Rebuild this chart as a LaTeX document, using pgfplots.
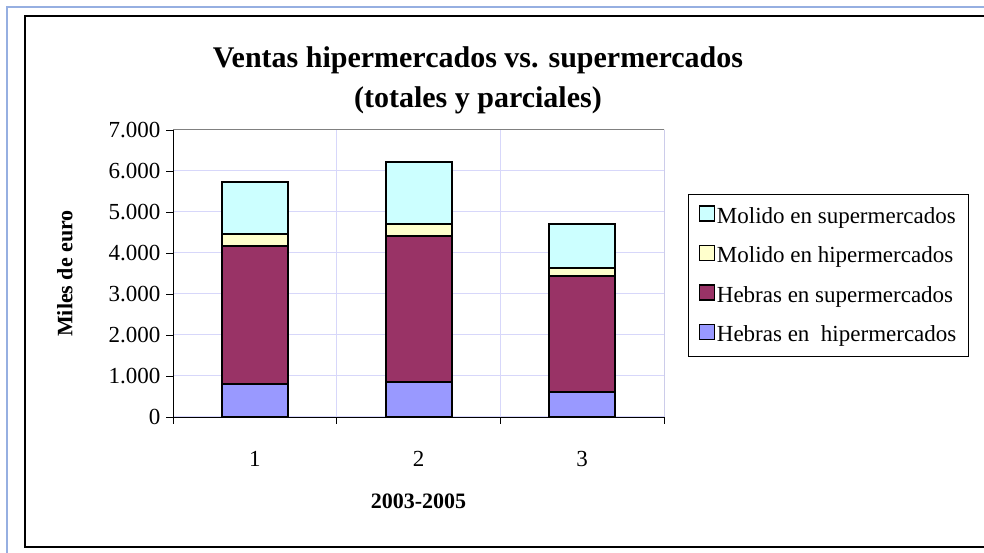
\documentclass[border=0pt]{standalone}
\usepackage{pgfplots}
\pgfplotsset{compat=1.18}
\usepackage{fontspec}
\setmainfont{Liberation Serif}
\definecolor{hhip}{RGB}{153,153,255}
\definecolor{hsup}{RGB}{153,51,102}
\definecolor{mhip}{RGB}{255,255,204}
\definecolor{msup}{RGB}{204,255,255}
\definecolor{gridc}{RGB}{215,215,250}
\definecolor{outerblue}{RGB}{150,175,225}
\begin{document}
\begin{tikzpicture}[x=1pt,y=1pt]
\useasboundingbox (0,0) rectangle (984,553);
\fill[white] (0,0) rectangle (984,553);
\draw[outerblue,line width=2pt] (7,0) -- (7,546) -- (984,546);
\draw[black,line width=1.6pt] (25,6) rectangle (995,537);
\begin{axis}[
  at={(173pt,136pt)}, anchor=south west,
  scale only axis, width=491pt, height=287pt,
  ybar stacked, bar width=66pt,
  xmin=0.5, xmax=3.5, ymin=0, ymax=7000,
  enlargelimits=false,
  axis x line*=bottom, axis y line*=left,
  axis line style={black,line width=0.9pt},
  xtick={1,2,3}, xticklabels={1,2,3},
  major x tick style={draw=none},
  minor xtick={0.5,1.5,2.5,3.5},
  minor x tick style={black,line width=0.9pt},
  xminorgrids=true, minor x grid style={gridc,line width=1pt},
  ytick={0,1000,...,7000},
  ymajorgrids=true, major y grid style={gridc,line width=1pt},
  major y tick style={black,line width=0.9pt},
  tick align=outside, major tick length=7pt, minor tick length=7pt,
  scaled y ticks=false,
  /pgf/number format/assume math mode=true,
  /pgf/number format/1000 sep={.},
  tick label style={font=\fontsize{23}{26}\selectfont},
  xticklabel style={yshift=-24pt},
  yticklabel style={xshift=-2pt},
  xlabel={2003-2005},
  ylabel={Miles de euro},
  xlabel style={at={(axis description cs:0.5,-0.293)},anchor=center,font=\bfseries\fontsize{22}{24}\selectfont},
  ylabel style={at={(axis description cs:-0.22,0.5)},anchor=center,rotate=0,font=\bfseries\fontsize{22}{24}\selectfont},
  title={Ventas hipermercados vs. supermercados\\(totales y parciales)},
  title style={at={(axis description cs:0.621,1.153)},anchor=center,align=center,font=\bfseries\fontsize{30}{40}\selectfont},
  reverse legend,
  legend cell align=left,
  legend image code/.code={\draw[#1,draw=black,line width=1.4pt] (0pt,-5pt) rectangle (15pt,10pt);},
  legend style={at={(axis description cs:1.049,0.777)},anchor=north west,draw=black,line width=0.9pt,
    font=\fontsize{23}{26}\selectfont,row sep=18pt,inner xsep=10pt,inner ysep=11pt,
    /tikz/every even column/.append style={column sep=4pt}},
]
\addplot[fill=hhip,draw=black,line width=2pt] coordinates {(1,815) (2,855) (3,620)};
\addplot[fill=hsup,draw=black,line width=2pt] coordinates {(1,3352) (2,3557) (3,2822)};
\addplot[fill=mhip,draw=black,line width=2pt] coordinates {(1,301) (2,300) (3,196)};
\addplot[fill=msup,draw=black,line width=2pt] coordinates {(1,1269) (2,1506) (3,1074)};
\legend{Hebras en \ hipermercados,Hebras en supermercados,Molido en hipermercados,Molido en supermercados}
\draw[gray,line width=1pt] (rel axis cs:0,1) -- (rel axis cs:1,1) -- (rel axis cs:1,0);
\end{axis}
\end{tikzpicture}
\end{document}
